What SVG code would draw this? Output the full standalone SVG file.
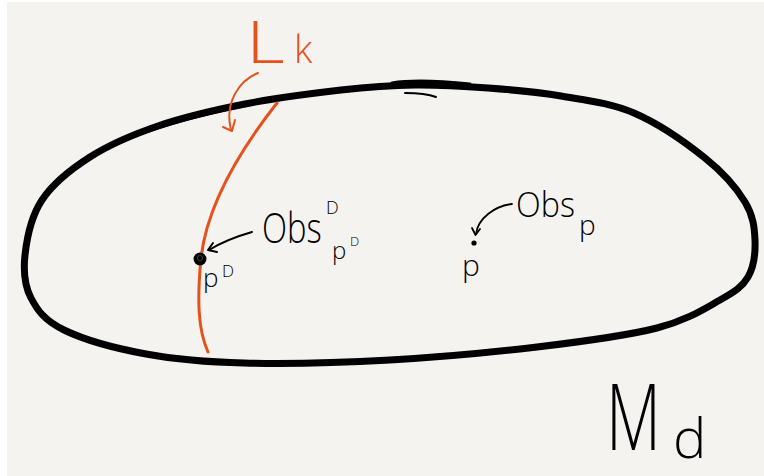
<svg xmlns="http://www.w3.org/2000/svg" width="764" height="476" viewBox="0 0 764 476">
<style>
.ink{fill:none;stroke:#000;stroke-linecap:round;stroke-linejoin:round}
.or{fill:none;stroke:#e4521b;stroke-linecap:round;stroke-linejoin:round}
.t{font-family:"Open Sans","DejaVu Sans",sans-serif;font-weight:300;fill:#000}
.to{font-family:"Open Sans","DejaVu Sans",sans-serif;font-weight:300;fill:#e4521b}
</style>
<rect width="764" height="476" fill="#ffffff"/>
<rect x="7" y="2" width="757" height="474" fill="#f4f3f0"/>
<g id="manifold">
<path class="ink" stroke-width="7" d="M25,255 C26.8,238.7 31.2,216.3 42,200 C52.8,183.7 70.7,169.3 90,157 C109.3,144.7 132.2,134.8 158,126 C183.8,117.2 214.5,110 245,104 C275.5,98 312.7,93.2 341,90 C369.3,86.8 390.5,85.3 415,85 C439.5,84.7 463.7,86.2 488,88 C512.3,89.8 536.7,91.8 561,96 C585.3,100.2 610,102.7 634,113 C658,123.3 686.5,143.2 705,158 C723.5,172.8 736.7,188.3 745,202 C753.3,215.7 754.5,227.5 755,240 C755.5,252.5 753.8,267 748,277 C742.2,287 735.2,291.5 720,300 C704.8,308.5 687.5,320.2 657,328 C626.5,335.8 581.5,341.7 537,347 C492.5,352.3 438.8,357.3 390,360 C341.2,362.7 284.7,364 244,363 C203.3,362 176,359.5 146,354 C116,348.5 83.2,339.3 64,330 C44.8,320.7 37.5,310.5 31,298 C24.5,285.5 23.2,271.3 25,255 Z"/>
<path class="ink" stroke-width="4" d="M30,225 C40,190 70,165 110,146 C150,127 200,114 250,104"/>
<path class="ink" stroke-width="3" d="M300,364 C380,362 470,354 560,344"/>
<path class="ink" stroke-width="3" d="M392,83 C410,80 440,81 470,84"/>
<path class="ink" stroke-width="2" stroke="#222" d="M405,93 C418,93 428,94 436,97"/>
</g>
<g id="leaf">
<path class="or" stroke-width="3" d="M277,103 C240,150 207,205 201,258 C197,300 198,330 208,352"/>
</g>
<g id="label-Lk">
<text class="to" transform="translate(246,63) scale(1.3,1)" font-size="58">L</text>
<text class="to" x="294" y="63" font-size="38">k</text>
</g>
<g id="point-pD">
<circle cx="200" cy="259" r="6.5" fill="#000"/>
<circle cx="200" cy="258" r="2.5" fill="none" stroke="#444" stroke-width="1"/>
<text class="t" x="203" y="287" font-size="26">p</text>
<text class="t" x="222" y="277" font-size="17">D</text>
</g>
<g id="label-ObsD">
<text class="t" transform="translate(262,243) scale(0.78,1)" font-size="42">Obs</text>
<text class="t" x="326" y="214" font-size="18">D</text>
<text class="t" x="332" y="259" font-size="24">p</text>
<text class="t" x="350" y="246" font-size="13">D</text>
</g>
<g id="point-p">
<circle cx="474" cy="243" r="2.6" fill="#000"/>
<text class="t" x="462" y="276" font-size="30">p</text>
</g>
<g id="label-Obsp">
<text class="t" transform="translate(516,217) scale(0.95,1)" font-size="34">Obs</text>
<text class="t" x="579" y="235" font-size="28">p</text>
</g>
<g id="label-Md">
<text class="t" transform="translate(606,450) scale(0.74,1.08)" font-size="86">M</text>
<text class="t" x="673" y="458" font-size="56">d</text>
</g>
<g id="connectors">
<path class="or" stroke-width="2" d="M258,73 C240,80 224,102 231,130"/>
<path class="or" stroke-width="2" d="M223,127 L232,131 L235,120"/>
<path class="ink" stroke-width="2" d="M252,232 C238,236 222,242 209,250"/>
<path class="ink" stroke-width="2" d="M213,243 L208,250 L217,252"/>
<path class="ink" stroke-width="1.8" d="M512,204 C495,206 478,218 476,234"/>
<path class="ink" stroke-width="1.8" d="M472,228 L475.5,235 L480,229"/>
</g>
</svg>
